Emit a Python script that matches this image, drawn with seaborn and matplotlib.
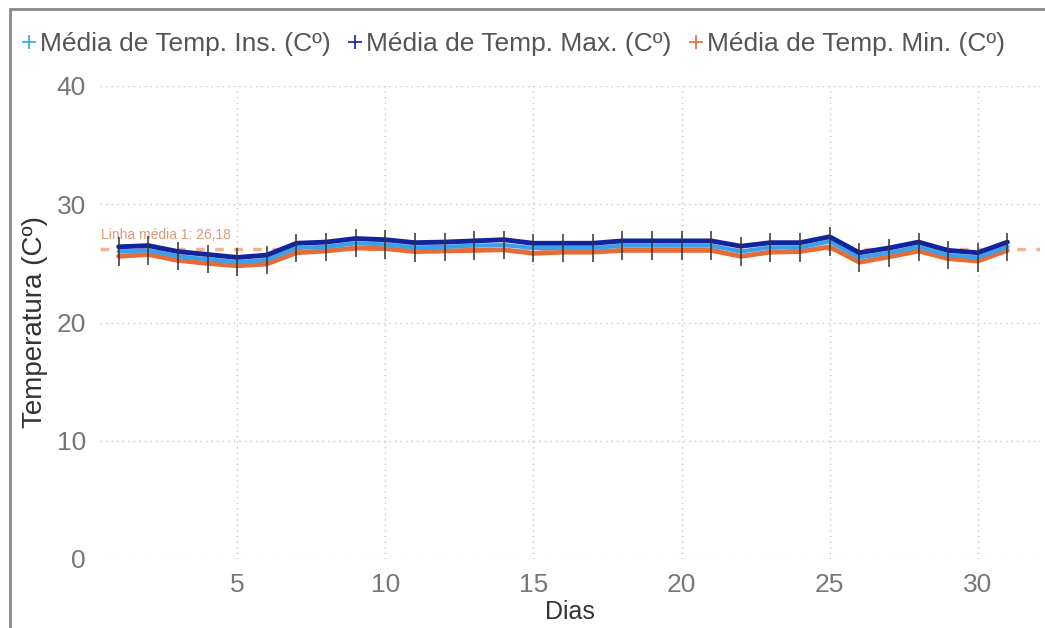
import pandas as pd
import matplotlib.pyplot as plt
import seaborn as sns
from matplotlib.lines import Line2D

# Dados (medias diarias)
dias = list(range(1, 32))
temp_max = [26.4, 26.5, 26.0, 25.75, 25.5, 25.7, 26.7, 26.8, 27.1, 27.0, 26.75,
            26.8, 26.9, 27.0, 26.7, 26.7, 26.7, 26.9, 26.9, 26.9, 26.9, 26.45,
            26.75, 26.75, 27.25, 25.9, 26.3, 26.8, 26.1, 25.9, 26.8]
temp_ins = [26.0, 26.1, 25.6, 25.35, 25.1, 25.3, 26.3, 26.4, 26.7, 26.6, 26.35,
            26.4, 26.5, 26.55, 26.3, 26.3, 26.3, 26.5, 26.5, 26.5, 26.5, 26.0,
            26.35, 26.35, 26.85, 25.5, 25.9, 26.4, 25.7, 25.5, 26.4]
temp_min = [25.6, 25.75, 25.25, 25.0, 24.8, 24.95, 25.9, 26.05, 26.3, 26.25, 26.0,
            26.05, 26.1, 26.15, 25.85, 25.95, 25.95, 26.1, 26.1, 26.1, 26.1, 25.6,
            25.95, 26.0, 26.4, 25.1, 25.55, 26.05, 25.4, 25.2, 26.1]
media_linha = 26.18
erro = 1.2

series = ['Média de Temp. Ins. (Cº)', 'Média de Temp. Max. (Cº)', 'Média de Temp. Min. (Cº)']
cores = ['#3AA0EA', '#12239E', '#E66C37']

df = pd.DataFrame({'dia': dias, series[0]: temp_ins, series[1]: temp_max, series[2]: temp_min})
long_df = df.melt(id_vars='dia', var_name='serie', value_name='temp')

sns.set_style('white')
plt.rcParams['font.family'] = ['Liberation Sans', 'DejaVu Sans']

fig = plt.figure(figsize=(10.45, 6.28), dpi=100)
ax = fig.add_axes([100 / 1045, 1 - 559 / 628, 940 / 1045, (559 - 86) / 628])

# linha media atras de tudo
ax.axhline(media_linha, color='#EBA27F', lw=2.5, ls=(0, (2.5, 3)), alpha=0.8, zorder=1)

# desenha min, ins, max (max por cima)
for nome, cor, lw in [(series[2], cores[2], 3.5), (series[0], cores[0], 3), (series[1], cores[1], 3.5)]:
    sns.lineplot(data=long_df[long_df['serie'] == nome], x='dia', y='temp',
                 color=cor, linewidth=lw, ax=ax, legend=False, zorder=3)

ax.errorbar(dias, temp_ins, yerr=erro, fmt='none', ecolor='#333333',
            elinewidth=1.3, alpha=0.85, zorder=4)

ax.annotate(f'Linha média 1: {media_linha:.2f}'.replace('.', ','),
            xy=(0, media_linha), xycoords=('axes fraction', 'data'),
            xytext=(1, 5), textcoords='offset points',
            fontsize=10, color='#DC9A78', va='bottom', ha='left')

ax.set_xlim(0.37, 32.1)
ax.set_ylim(0, 40)
ax.set_xticks([5, 10, 15, 20, 25, 30])
ax.set_yticks([0, 10, 20, 30, 40])
ax.grid(True, color='#C4C4C4', ls=(0, (1, 3)), lw=1)
for s in ax.spines.values():
    s.set_visible(False)
ax.tick_params(length=0, labelsize=19, labelcolor='#777777', pad=10)
ax.set_xlabel('Dias', fontsize=18, color='#333333', labelpad=2)
ax.set_ylabel('Temperatura (Cº)', fontsize=20, color='#333333', labelpad=6)

handles = [Line2D([], [], color=c, marker='+', ls='none', markersize=10, mew=1.2) for c in cores]
leg = fig.legend(handles, series, loc='center left', bbox_to_anchor=(-0.005, 1 - 44 / 628),
                 ncol=3, frameon=False, fontsize=19, handletextpad=0.0, columnspacing=0.55,
                 handlelength=0.8)
for t in leg.get_texts():
    t.set_color('#555555')

# moldura do visual
fig.add_artist(Line2D([10 / 1045, 1], [1 - 9 / 628, 1 - 9 / 628], color='#888888', lw=2))
fig.add_artist(Line2D([10 / 1045, 10 / 1045], [0, 1 - 9 / 628], color='#888888', lw=2))

fig.savefig('out.png', dpi=100)
